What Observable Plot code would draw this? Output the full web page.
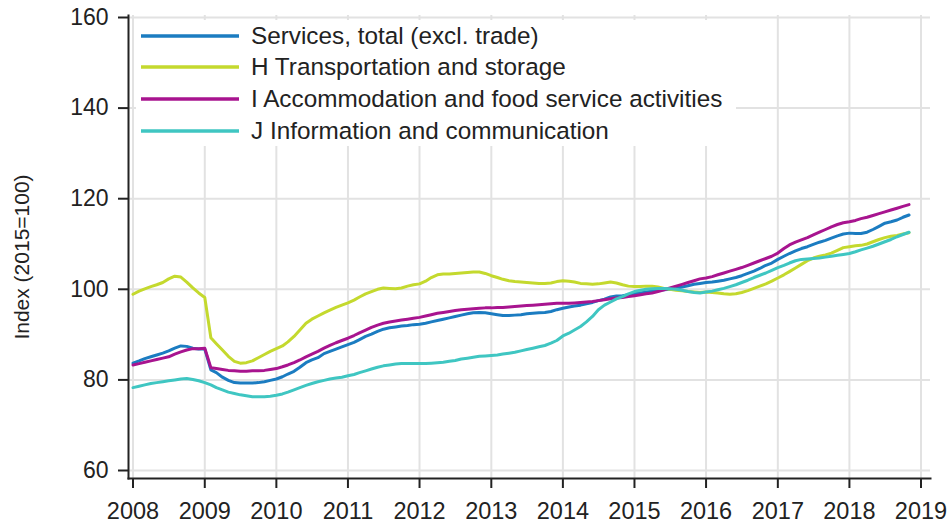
<!DOCTYPE html>
<html>
<head>
<meta charset="utf-8">
<script src="https://cdn.jsdelivr.net/npm/d3@7"></script>
<script src="https://cdn.jsdelivr.net/npm/@observablehq/plot@0.6"></script>
<style>
  html, body { margin: 0; padding: 0; background: #fff; }
  #wrap { position: relative; width: 952px; height: 528px; font-family: "Liberation Sans", Arial, sans-serif; }
  #legend { position: absolute; left: 136px; top: 20px; width: 600px; height: 126px; background: #fff; }
  .row { height: 31.6px; display: flex; align-items: center; font-size: 24.3px; color: #222; white-space: nowrap; }
  .row svg { margin-left: 5px; margin-right: 12px; }
</style>
</head>
<body>
<div id="wrap"></div>
<script>
const seriesNames = [
  "Services, total (excl. trade)",
  "H Transportation and storage",
  "I Accommodation and food service activities",
  "J Information and communication"
];
const seriesColors = ["#1b7cc1", "#c4d92e", "#a8148f", "#3fc6c2"];

// Monthly, Jan 2008 – Nov 2018
const services = [
  83.7, 84.2, 84.7, 85.1, 85.5, 85.9, 86.4, 87.0, 87.5, 87.4, 87.0, 86.8,
  86.8, 82.2, 81.6, 80.6, 79.9, 79.4, 79.3, 79.3, 79.3, 79.4, 79.6, 79.9,
  80.2, 80.7, 81.3, 81.9, 82.8, 83.8, 84.4, 84.9, 85.8, 86.3, 86.8, 87.3,
  87.8, 88.3, 88.9, 89.6, 90.1, 90.7, 91.2, 91.5, 91.7, 91.9, 92.0, 92.2,
  92.3, 92.5, 92.8, 93.1, 93.4, 93.7, 94.0, 94.3, 94.6, 94.8, 94.9, 94.8,
  94.6, 94.4, 94.2, 94.2, 94.3, 94.4, 94.6, 94.7, 94.8, 94.9, 95.1, 95.5,
  95.8, 96.1, 96.3, 96.5, 96.8, 97.1, 97.5, 97.8, 98.3, 98.5, 98.6, 98.8,
  99.0, 99.2, 99.4, 99.6, 99.8, 99.9, 100.0, 100.2, 100.5, 100.8, 101.1, 101.3,
  101.5, 101.6, 101.8, 102.0, 102.3, 102.6, 103.0, 103.5, 104.0, 104.6, 105.3, 105.8,
  106.6, 107.3, 107.9, 108.5, 109.0, 109.4, 109.9, 110.4, 110.8, 111.3, 111.8, 112.2,
  112.4, 112.3, 112.3, 112.6, 113.2, 113.9, 114.6, 114.9, 115.3, 115.9, 116.4
];
const transport = [
  98.9, 99.6, 100.1, 100.6, 101.0, 101.5, 102.3, 102.9, 102.7, 101.6, 100.3, 99.2,
  98.2, 89.3, 88.0, 86.6, 85.2, 84.1, 83.7, 83.8, 84.2, 84.9, 85.6, 86.3,
  86.9, 87.5, 88.4, 89.6, 91.0, 92.5, 93.4, 94.1, 94.8, 95.4, 96.0, 96.5,
  97.0, 97.6, 98.3, 99.0, 99.5, 100.0, 100.3, 100.2, 100.1, 100.3, 100.7, 101.0,
  101.2, 101.8, 102.6, 103.2, 103.4, 103.4, 103.5, 103.6, 103.7, 103.8, 103.8, 103.5,
  103.0, 102.6, 102.2, 101.9, 101.7, 101.6, 101.5, 101.4, 101.3, 101.3, 101.4, 101.7,
  101.9, 101.8, 101.6, 101.3, 101.2, 101.1, 101.2, 101.4, 101.6, 101.4, 101.0, 100.7,
  100.6, 100.6, 100.7, 100.7, 100.5, 100.2, 100.0, 99.8, 99.7, 99.5, 99.4, 99.3,
  99.4, 99.3, 99.2, 99.0, 98.9, 99.0, 99.3, 99.7, 100.2, 100.7, 101.2, 101.8,
  102.5, 103.2, 103.9, 104.7, 105.5, 106.3, 106.9, 107.3, 107.6, 108.0, 108.6, 109.2,
  109.4, 109.6, 109.7, 110.0, 110.5, 111.0, 111.4, 111.7, 111.9, 112.2, 112.5
];
const accommodation = [
  83.3, 83.6, 83.9, 84.2, 84.5, 84.8, 85.1, 85.7, 86.2, 86.6, 86.9, 86.9,
  87.0, 82.7, 82.5, 82.3, 82.1, 82.0, 81.9, 81.9, 82.0, 82.0, 82.1, 82.3,
  82.5, 82.9, 83.3, 83.8, 84.4, 85.1, 85.7, 86.3, 87.0, 87.6, 88.2, 88.7,
  89.2, 89.8, 90.4, 91.0, 91.6, 92.1, 92.5, 92.8, 93.0, 93.2, 93.4, 93.6,
  93.8, 94.1, 94.4, 94.7, 94.9, 95.1, 95.3, 95.5, 95.6, 95.7, 95.8, 95.9,
  95.9, 96.0, 96.0, 96.1, 96.2, 96.3, 96.4, 96.5, 96.6, 96.7, 96.8, 96.9,
  96.9, 96.9, 97.0, 97.1, 97.2, 97.3, 97.5, 97.7, 97.9, 98.1, 98.2, 98.4,
  98.6, 98.8, 99.0, 99.2, 99.5, 99.9, 100.3, 100.7, 101.1, 101.5, 101.9, 102.3,
  102.5, 102.8, 103.2, 103.6, 104.0, 104.4, 104.8, 105.3, 105.8, 106.3, 106.8, 107.3,
  108.0, 109.0, 109.8, 110.4, 110.9, 111.4, 112.0, 112.6, 113.2, 113.8, 114.3, 114.7,
  114.9, 115.2, 115.6, 115.9, 116.3, 116.7, 117.1, 117.5, 117.9, 118.3, 118.7
];
const information = [
  78.3, 78.6, 78.9, 79.2, 79.4, 79.6, 79.8, 80.0, 80.2, 80.3, 80.1, 79.8,
  79.4, 78.9, 78.3, 77.8, 77.3, 77.0, 76.7, 76.5, 76.3, 76.3, 76.3, 76.4,
  76.6, 76.9, 77.3, 77.8, 78.3, 78.8, 79.2, 79.6, 79.9, 80.2, 80.4, 80.6,
  80.9, 81.2, 81.6, 82.0, 82.4, 82.8, 83.1, 83.3, 83.5, 83.6, 83.6, 83.6,
  83.6, 83.6, 83.7, 83.8, 83.9, 84.1, 84.3, 84.6, 84.8, 85.0, 85.2, 85.3,
  85.4, 85.5, 85.7, 85.9, 86.1, 86.4, 86.7, 87.0, 87.3, 87.6, 88.1, 88.7,
  89.7, 90.3, 91.0, 91.8, 92.8, 94.0, 95.5, 96.5, 97.2, 97.9, 98.4, 99.0,
  99.5, 99.8, 100.0, 100.1, 100.2, 100.2, 100.1, 100.0, 99.8, 99.5, 99.3, 99.2,
  99.4, 99.6, 99.9, 100.2, 100.6, 101.0, 101.5, 102.0, 102.6, 103.1, 103.6, 104.2,
  104.8, 105.3, 105.8, 106.3, 106.6, 106.7, 106.8, 106.9, 107.1, 107.3, 107.5, 107.7,
  107.9, 108.3, 108.7, 109.1, 109.5, 110.0, 110.5, 111.0, 111.6, 112.1, 112.6
];
const yTicks = [60, 80, 100, 120, 140, 160];
const yearTicks = d3.utcYears(new Date(Date.UTC(2008, 0, 1)), new Date(Date.UTC(2019, 0, 2)));
const yLabel = "Index (2015=100)";

const months = d3.utcMonth.range(new Date(Date.UTC(2008, 0, 1)), new Date(Date.UTC(2018, 11, 1)));
const allSeries = [services, transport, accommodation, information];
const data = allSeries.flatMap((vals, i) =>
  vals.map((v, j) => ({ date: months[j], value: v, series: seriesNames[i] })));

const chart = Plot.plot({
  width: 952,
  height: 528,
  marginLeft: 128,
  marginRight: 22,
  marginTop: 15,
  marginBottom: 50,
  style: { fontFamily: "'Liberation Sans', Arial, sans-serif", fontSize: "23px", color: "#222", background: "#fff" },
  x: { type: "utc", domain: [new Date(Date.UTC(2008, 0, 1)), new Date(Date.UTC(2019, 0, 1))], range: [132.5, 920.5] },
  y: { domain: [60, 160], range: [470, 17] },
  color: { domain: seriesNames, range: seriesColors },
  marks: [
    Plot.gridY(yTicks, { stroke: "#e2e2e2", strokeOpacity: 1, strokeWidth: 2 }),
    Plot.gridX(yearTicks, { stroke: "#e2e2e2", strokeOpacity: 1, strokeWidth: 2 }),
    Plot.line(data, { x: "date", y: "value", z: "series", stroke: "series", strokeWidth: 3 }),
    Plot.frame({ anchor: "left", stroke: "#222", strokeWidth: 2 }),
    Plot.frame({ anchor: "bottom", stroke: "#222", strokeWidth: 2 }),
    Plot.axisY(yTicks, { tickSize: 10, tickPadding: 10, label: null, strokeWidth: 2 }),
    Plot.axisX(yearTicks, { tickFormat: "%Y", tickSize: 10, tickPadding: 14, label: null, strokeWidth: 2, fontSize: 23.5 }),
    Plot.text([yLabel], { frameAnchor: "left", textAnchor: "middle", rotate: -90, dx: -106, dy: 10, fontSize: 21, fill: "#222" })
  ]
});

const wrap = document.getElementById("wrap");
wrap.appendChild(chart);

const legend = document.createElement("div");
legend.id = "legend";
seriesNames.forEach((name, i) => {
  const row = document.createElement("div");
  row.className = "row";
  row.innerHTML = `<svg width="98" height="6"><line x1="0" y1="3" x2="98" y2="3" stroke="${seriesColors[i]}" stroke-width="3.5"/></svg><span>${name}</span>`;
  legend.appendChild(row);
});
wrap.appendChild(legend);
</script>
</body>
</html>
